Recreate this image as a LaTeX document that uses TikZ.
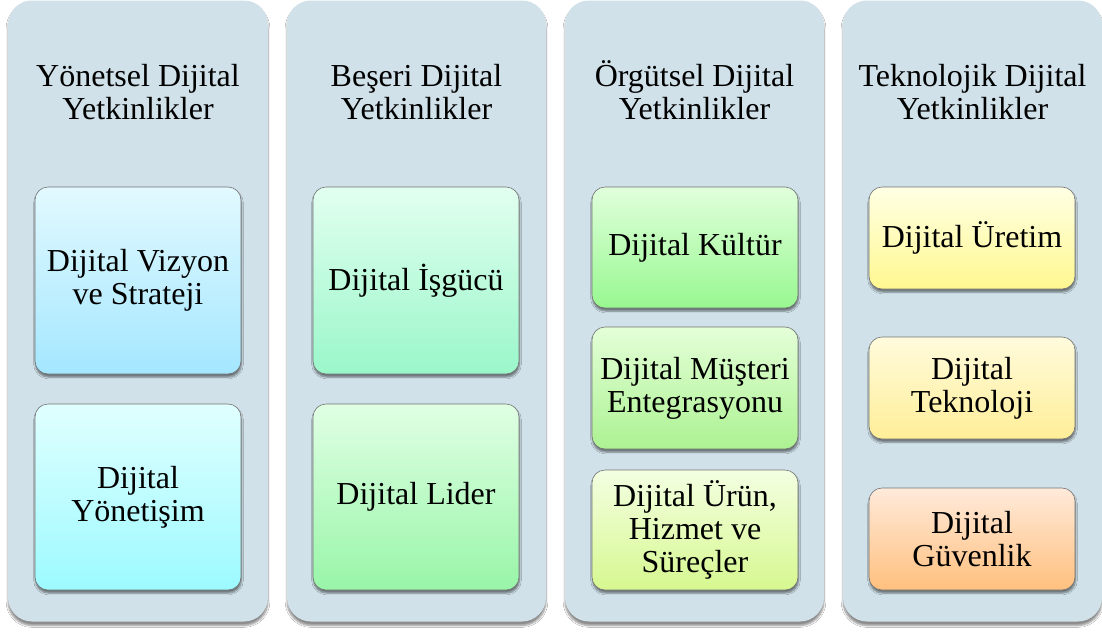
\documentclass[tikz,border=0pt]{standalone}
\usepackage{fontspec}
\setmainfont{Liberation Serif}
\usetikzlibrary{shadows,shadows.blur}
\definecolor{panelbg}{HTML}{D0E1E9}
\definecolor{c1atop}{HTML}{E2F9FF}\definecolor{c1abot}{HTML}{A4E7FF}
\definecolor{c1btop}{HTML}{E0FFFF}\definecolor{c1bbot}{HTML}{9CFAFF}
\definecolor{c2atop}{HTML}{E2FFF0}\definecolor{c2abot}{HTML}{9AF7CA}
\definecolor{c2btop}{HTML}{E0FFE4}\definecolor{c2bbot}{HTML}{98F5A8}
\definecolor{c3atop}{HTML}{E0FFDC}\definecolor{c3abot}{HTML}{98F890}
\definecolor{c3btop}{HTML}{E4FFD8}\definecolor{c3bbot}{HTML}{ACF292}
\definecolor{c3ctop}{HTML}{F4FFE2}\definecolor{c3cbot}{HTML}{D6F890}
\definecolor{c4atop}{HTML}{FFFFE4}\definecolor{c4abot}{HTML}{FFF890}
\definecolor{c4btop}{HTML}{FFFBDC}\definecolor{c4bbot}{HTML}{FFEE98}
\definecolor{c4ctop}{HTML}{FFEADA}\definecolor{c4cbot}{HTML}{FFC07E}
\newcommand\capline{\vphantom{Ö}}
\tikzset{
  panel/.style={rectangle, rounded corners=24pt, fill=panelbg, inner sep=0pt,
    minimum width=#1, minimum height=621pt,
    blur shadow={shadow blur steps=6, shadow xshift=0pt, shadow yshift=-4pt,
      shadow opacity=45, shadow blur extra rounding=2pt}},
  paneltitle/.style={align=center, font=\fontsize{32}{33}\selectfont, inner sep=0pt},
  item/.style={rectangle, rounded corners=13pt, draw=black!55, line width=0.6pt,
    minimum width=206pt, minimum height=#1, inner sep=2pt, align=center,
    font=\fontsize{32}{33}\selectfont,
    blur shadow={shadow blur steps=5, shadow xshift=0.5pt, shadow yshift=-3pt,
      shadow opacity=50, shadow blur extra rounding=1.5pt}},
  shadecol/.style={top color=#1top, bottom color=#1bot}
}
\begin{document}
\begin{tikzpicture}[x=1pt, y=-1pt]
  \useasboundingbox (0,0) rectangle (1102,632);
  \fill[white] (0,0) rectangle (1102,632);

  % column panels
  \node[panel=260pt] (p1) at (138,311) {};
  \node[panel=259pt] (p2) at (416.5,311) {};
  \node[panel=259pt] (p3) at (694.5,311) {};
  \node[panel=259pt] (p4) at (972.5,311) {};

  % column headings
  \node[paneltitle] (t1) at (138,90) {\capline Yönetsel Dijital\\Yetkinlikler};
  \node[paneltitle] (t2) at (416.5,90) {\capline Beşeri Dijital\\Yetkinlikler};
  \node[paneltitle] (t3) at (694.5,90) {\capline Örgütsel Dijital\\Yetkinlikler};
  \node[paneltitle] (t4) at (972.5,90) {\capline Teknolojik Dijital\\Yetkinlikler};

  % managerial competencies
  \node[item=187pt, shadecol=c1a] (a1) at (138,280.5) {Dijital Vizyon\\ve Strateji};
  \node[item=186pt, shadecol=c1b] (a2) at (138,497) {Dijital\\Yönetişim};

  % human competencies
  \node[item=187pt, shadecol=c2a] (b1) at (416,280.5) {Dijital İşgücü};
  \node[item=186pt, shadecol=c2b] (b2) at (416,497) {Dijital Lider};

  % organisational competencies
  \node[item=121pt, shadecol=c3a] (c1) at (695,247.5) {Dijital Kültür};
  \node[item=122pt, shadecol=c3b] (c2) at (695,388) {Dijital Müşteri\\Entegrasyonu};
  \node[item=120pt, shadecol=c3c] (c3) at (695,530) {Dijital Ürün,\\Hizmet ve\\Süreçler};

  % technological competencies
  \node[item=102pt, shadecol=c4a] (d1) at (972,238) {Dijital Üretim};
  \node[item=102pt, shadecol=c4b] (d2) at (972,388) {Dijital\\Teknoloji};
  \node[item=102pt, shadecol=c4c] (d3) at (972,539) {Dijital\\Güvenlik};
\end{tikzpicture}
\end{document}
